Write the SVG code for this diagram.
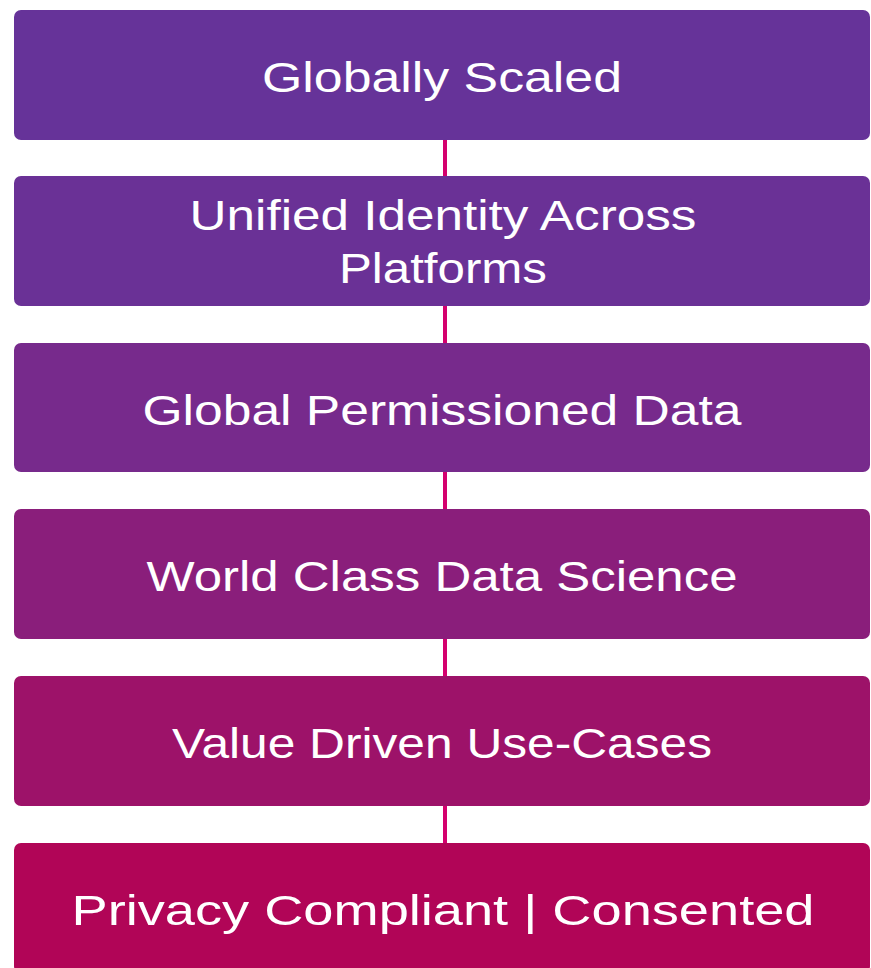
<svg xmlns="http://www.w3.org/2000/svg" width="871" height="968" viewBox="0 0 871 968">
<style>
.box{stroke:none}
.lbl{font-family:"Liberation Sans","DejaVu Sans",sans-serif;font-size:43px;fill:#ffffff;text-anchor:middle}
.conn{stroke:#d4006e;stroke-width:4;fill:none}
</style>
<rect width="871" height="968" fill="#ffffff"/>
<g id="connectors">
<line class="conn" x1="445" y1="140" x2="445" y2="176"/>
<line class="conn" x1="445" y1="306" x2="445" y2="343"/>
<line class="conn" x1="445" y1="472" x2="445" y2="509"/>
<line class="conn" x1="445" y1="639" x2="445" y2="676"/>
<line class="conn" x1="445" y1="806" x2="445" y2="843"/>
</g>
<g id="n1"><rect class="box" x="14" y="10" width="856" height="130" rx="7" fill="#663399"/>
<text class="lbl" x="442" y="92" textLength="360" lengthAdjust="spacingAndGlyphs">Globally Scaled</text></g>
<g id="n2"><rect class="box" x="14" y="176" width="856" height="130" rx="7" fill="#6a3196"/>
<text class="lbl" x="443" y="230" textLength="507" lengthAdjust="spacingAndGlyphs">Unified Identity Across</text>
<text class="lbl" x="443" y="283" textLength="208" lengthAdjust="spacingAndGlyphs">Platforms</text></g>
<g id="n3"><rect class="box" x="14" y="343" width="856" height="129" rx="7" fill="#772a8c"/>
<text class="lbl" x="442" y="425" textLength="599" lengthAdjust="spacingAndGlyphs">Global Permissioned Data</text></g>
<g id="n4"><rect class="box" x="14" y="509" width="856" height="130" rx="7" fill="#8a1e7b"/>
<text class="lbl" x="442" y="591" textLength="591" lengthAdjust="spacingAndGlyphs">World Class Data Science</text></g>
<g id="n5"><rect class="box" x="14" y="676" width="856" height="130" rx="7" fill="#9d1269"/>
<text class="lbl" x="442" y="758" textLength="540" lengthAdjust="spacingAndGlyphs">Value Driven Use-Cases</text></g>
<g id="n6"><rect class="box" x="14" y="843" width="856" height="130" rx="7" fill="#b10557"/>
<text class="lbl" x="443" y="925" textLength="743" lengthAdjust="spacingAndGlyphs">Privacy Compliant | Consented</text></g>
</svg>
